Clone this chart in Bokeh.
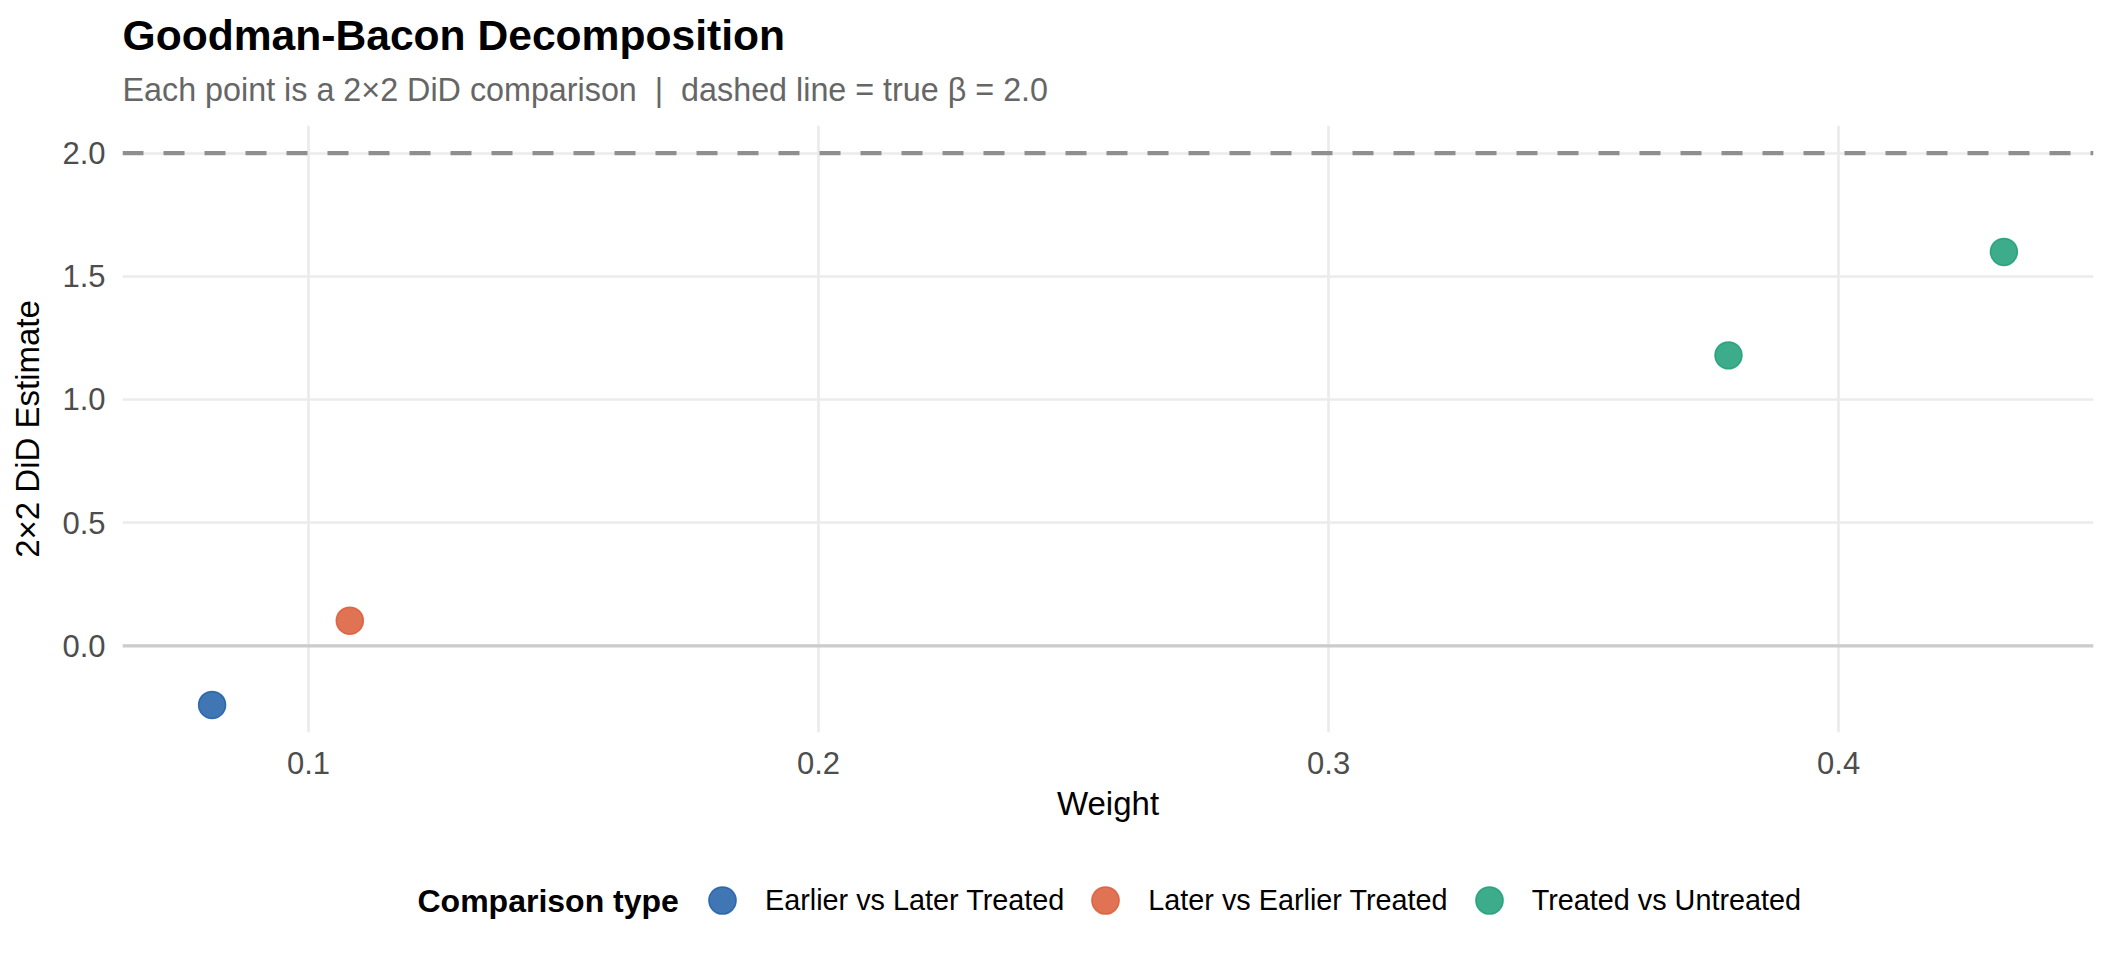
from bokeh.plotting import figure
from bokeh.layouts import column
from bokeh.models import (Range1d, FixedTicker, NumeralTickFormatter, Span, Label, Title,
                          Legend, LegendItem, ColumnDataSource)
from bokeh.embed import file_html
from bokeh.resources import INLINE

# ---- data ----
comparison = ["Earlier vs Later Treated", "Later vs Earlier Treated",
              "Treated vs Untreated", "Treated vs Untreated"]
weights = [0.0811, 0.1081, 0.3784, 0.4324]
estimates = [-0.240, 0.102, 1.179, 1.599]
true_beta = 2.0
categories = ["Earlier vs Later Treated", "Later vs Earlier Treated", "Treated vs Untreated"]
colors = ["#1E5EA6", "#DB5A35", "#1B9E77"]
x_ticks = [0.1, 0.2, 0.3, 0.4]
y_ticks = [0.0, 0.5, 1.0, 1.5, 2.0]

title_text = "Goodman-Bacon Decomposition"
subtitle_text = "Each point is a 2\u00d72 DiD comparison \u00a0|\u00a0 dashed line = true \u03b2 = 2.0"
x_label = "Weight"
y_label = "2\u00d72 DiD Estimate"
legend_title = "Comparison type"

FONT = "Liberation Sans"

# ranges with 5% expansion (ggplot-like)
x_lo, x_hi = min(weights), max(weights)
xp = (x_hi - x_lo) * 0.05
y_lo = min(min(estimates), 0.0, true_beta)
y_hi = max(max(estimates), 0.0, true_beta)
yp = (y_hi - y_lo) * 0.05

W = 2096
H_MAIN, H_LEG = 850, 94

p = figure(width=W, height=H_MAIN, output_backend="svg", toolbar_location=None,
           x_range=Range1d(x_lo - xp, x_hi + xp), y_range=Range1d(y_lo - yp, y_hi + yp),
           min_border_left=122, min_border_right=3, min_border_top=125, min_border_bottom=118)
p.outline_line_color = None
p.background_fill_color = "white"
p.border_fill_color = "white"

# title / subtitle
p.title.text = title_text
p.title.text_font = FONT
p.title.text_font_size = "42.6px"
p.title.text_font_style = "bold"
p.title.text_color = "black"
p.title.align = "left"
p.title.vertical_align = "bottom"
p.title.offset = 0
try:
    p.title.standoff = -12
except Exception:
    p.title.standoff = 0
p.add_layout(Title(text=subtitle_text, text_font=FONT, text_font_size="32.3px",
                   text_font_style="normal", text_color="#666666", align="left",
                   vertical_align="bottom", standoff=35, offset=0), "above")

# grid
p.xgrid.ticker = FixedTicker(ticks=x_ticks)
p.ygrid.ticker = FixedTicker(ticks=y_ticks)
for g in (p.xgrid, p.ygrid):
    g.grid_line_color = "#EBEBEB"
    g.grid_line_width = 2.7

# axes
for ax in (p.xaxis, p.yaxis):
    ax.axis_line_color = None
    ax.major_tick_line_color = None
    ax.minor_tick_line_color = None
    ax.major_tick_out = 0
    ax.major_tick_in = 0
    ax.minor_tick_out = 0
    ax.major_label_text_font = FONT
    ax.major_label_text_font_size = "31px"
    ax.major_label_text_color = "#4D4D4D"
    ax.axis_label_text_font = FONT
    ax.axis_label_text_font_size = "33px"
    ax.axis_label_text_font_style = "normal"
    ax.axis_label_text_color = "black"
    ax.formatter = NumeralTickFormatter(format="0.0")
p.xaxis.ticker = FixedTicker(ticks=x_ticks)
p.yaxis.ticker = FixedTicker(ticks=y_ticks)
p.xaxis.axis_label = x_label
p.yaxis.axis_label = y_label
p.xaxis.major_label_standoff = 19
p.yaxis.major_label_standoff = 17
p.xaxis.axis_label_standoff = 8
p.yaxis.axis_label_standoff = 13

# reference lines
p.add_layout(Span(location=0.0, dimension="width", line_color="#CCCCCC", line_width=3.3))
p.add_layout(Span(location=true_beta, dimension="width", line_color="#8F8F8F",
                  line_width=4.3, line_dash="21 20"))

# points
point_style = dict(size=27, marker="circle", fill_alpha=0.85, line_alpha=0.85, line_width=1.5)
sources = {}
for cat, col in zip(categories, colors):
    xs = [w for w, c in zip(weights, comparison) if c == cat]
    ys = [e for e, c in zip(estimates, comparison) if c == cat]
    sources[cat] = ColumnDataSource(dict(x=xs, y=ys))
    p.scatter("x", "y", source=sources[cat], fill_color=col, line_color=col, **point_style)

# ---- legend row (separate strip so nothing is clipped by the plot frame) ----
p2 = figure(width=W, height=H_LEG, output_backend="svg", toolbar_location=None,
            x_range=Range1d(0, W), y_range=Range1d(0, H_LEG),
            x_axis_location=None, y_axis_location=None,
            min_border_left=0, min_border_right=0, min_border_top=0, min_border_bottom=0)
p2.outline_line_color = None
p2.background_fill_color = "white"
p2.border_fill_color = "white"
p2.xgrid.visible = False
p2.ygrid.visible = False

items = []
for cat, col in zip(categories, colors):
    # same data as the main plot; hidden here, used only to draw the legend key
    r = p2.scatter("x", "y", source=ColumnDataSource(dict(sources[cat].data)),
                   fill_color=col, line_color=col, visible=False, **point_style)
    items.append(LegendItem(label=cat, renderers=[r]))

legend = Legend(items=items, orientation="horizontal", location=(566, 10),
                glyph_width=68, glyph_height=68, label_standoff=9, spacing=7,
                padding=0, margin=0, border_line_alpha=0, background_fill_alpha=0,
                inactive_fill_alpha=0,
                label_text_font=FONT, label_text_font_size="28.8px", label_text_color="black")
p2.add_layout(legend)
p2.add_layout(Label(x=295, y=44, x_units="screen", y_units="screen", text=legend_title,
                    text_font=FONT, text_font_size="32px", text_font_style="bold",
                    text_color="black", text_baseline="middle", text_align="left"))

open("out.html", "w").write(file_html(column(p, p2, spacing=0), INLINE))
